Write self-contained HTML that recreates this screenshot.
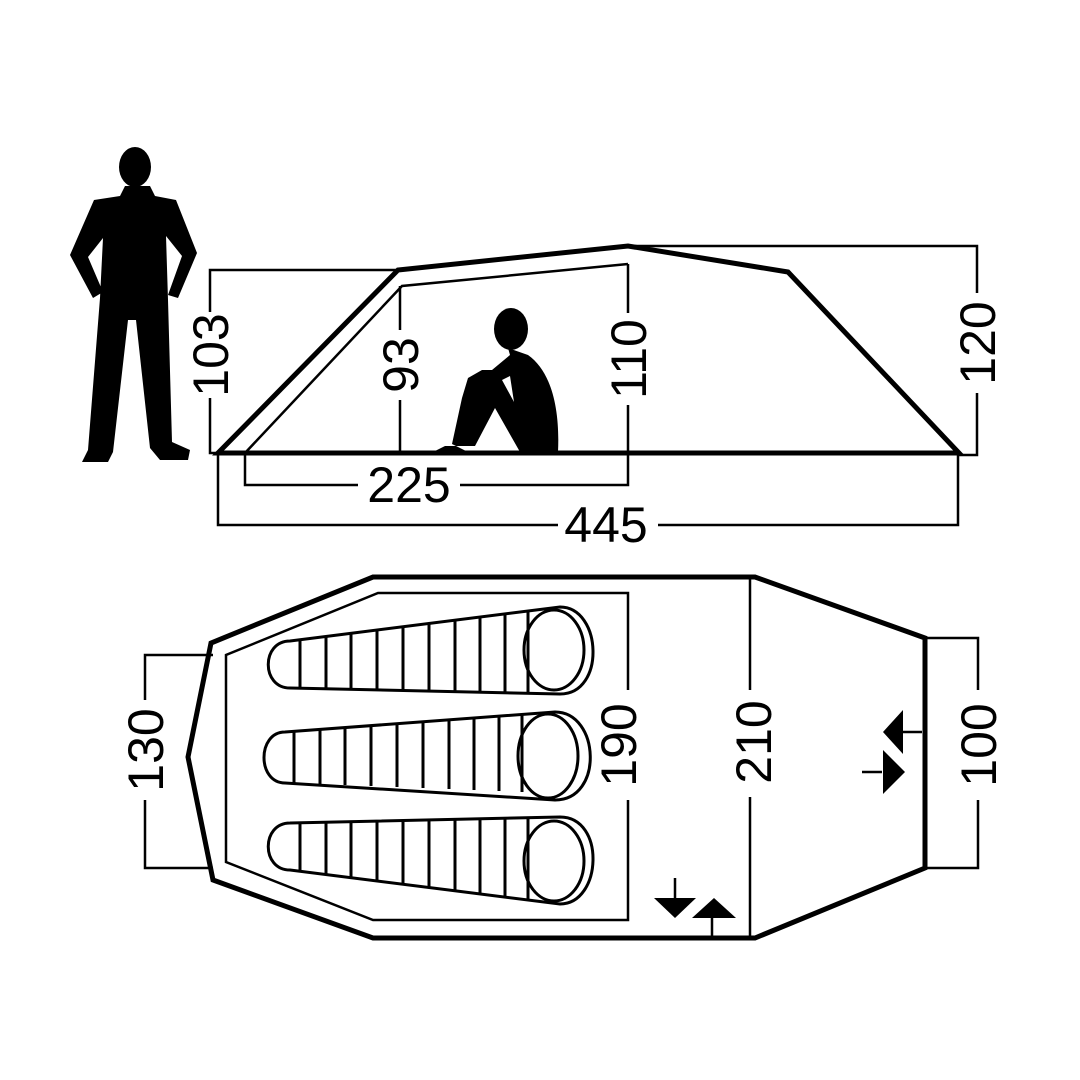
<!DOCTYPE html>
<html><head><meta charset="utf-8"><style>html,body{margin:0;padding:0;background:#fff}svg{display:block}</style></head>
<body>
<svg width="1080" height="1080" viewBox="0 0 1080 1080" xmlns="http://www.w3.org/2000/svg">
<defs>
<g id="bag" fill="none" stroke="#000" stroke-width="3">
<path d="M290,641 L560,607 C602,607 606,694 560,694 L290,688 C261,688 261,641 290,641 Z"/>
<ellipse cx="554" cy="650" rx="30" ry="40"/>
<path d="M300,640V688 M326,637V689 M351,634V689 M377,630V690 M403,627V690 M429,624V691 M455,620V691 M480,617V692 M505,614V692 M528,611V693"/>
</g>
</defs>
<g fill="#000">
<!-- standing person -->
<ellipse cx="135" cy="167" rx="16" ry="20"/>
<path d="M125,186 L150,186 L155,196 L176,200 L197,253 L178,298 L168,295 L182,256 L166,236 L168,300 L172,442 L190,450 L188,460 L160,460 L150,448 L136,320 L128,320 L113,452 L108,462 L82,462 L88,450 L100,298 L103,238 L88,257 L103,292 L93,298 L70,255 L94,200 L120,196 Z"/>
<!-- sitting person -->
<ellipse cx="511" cy="329" rx="17" ry="21"/>
<path d="M508,348 L528,355 C552,372 560,410 558,452 L520,452 L495,408 L475,446 L445,446 L433,452 L470,453 L452,444 L462,398 L468,378 L482,370 L492,370 L510,355 Z M502,380 L514,402 L510,376 Z" fill-rule="evenodd"/>
</g>
<g fill="none" stroke="#000" stroke-linejoin="miter">
<!-- side view -->
<path d="M218,453 L398,270 L628,246 L788,272 L959,453 Z" stroke-width="5"/>
<path d="M245,453 L402,286 L628,264" stroke-width="2.5"/>
<g stroke-width="2.5">
<path d="M398,270 H210 V312 M210,398 V453 H218"/>
<path d="M400,286 V330 M400,400 V453"/>
<path d="M628,264 V313 M628,405 V485 H460 M358,485 H245 V453"/>
<path d="M628,246 H977 V293 M977,393 V455 H959"/>
<path d="M218,453 V525 H558 M658,525 H958 V453"/>
</g>
<!-- top view -->
<path d="M373,577 L755,577 L925,638 L925,868 L755,938 L373,938 L213,880 L188,757 L211,643 Z" stroke-width="5"/>
<path d="M628,690 V593 H378 L226,655 V862 L373,920 H628 V800" stroke-width="2.5"/>
<g stroke-width="2.5">
<path d="M750,577 V690 M750,797 V938"/>
<path d="M925,638 H978 V690 M978,800 V868 H925"/>
<path d="M213,655 H145 V700 M145,800 V868 H213"/>
<path d="M712,938 V915 M675,878 V898 M895,732 H922 M862,772 H882"/>
</g>
</g>
<g fill="#000">
<polygon points="654,898 696,898 675,918"/>
<polygon points="692,918 736,918 714,898"/>
<polygon points="883,732 903,710 903,754"/>
<polygon points="905,772 883,750 883,794"/>
</g>
<use href="#bag"/>
<g fill="none" stroke="#000" stroke-width="3">
<path d="M285,732 L555,712 C600,712 604,800 555,800 L285,783 C257,783 257,732 285,732 Z"/>
<ellipse cx="548" cy="756" rx="30" ry="42"/>
<path d="M294,731V783 M320,729V784 M345,727V785 M371,725V786 M397,723V787 M423,721V788 M449,719V789 M474,717V790 M499,715V791 M522,714V792"/>
</g>
<use href="#bag" transform="translate(0,1511) scale(1,-1)"/>
<g font-family="Liberation Sans, sans-serif" font-size="50" fill="#000" text-anchor="middle">
<text x="409" y="502">225</text>
<text x="606" y="542">445</text>
<text transform="translate(228,355) rotate(-90)">103</text>
<text transform="translate(418,365) rotate(-90)">93</text>
<text transform="translate(646,359) rotate(-90)">110</text>
<text transform="translate(995,343) rotate(-90)">120</text>
<text transform="translate(163,750) rotate(-90)">130</text>
<text transform="translate(636,745) rotate(-90)">190</text>
<text transform="translate(771,742) rotate(-90)">210</text>
<text transform="translate(996,745) rotate(-90)">100</text>
</g>
</svg>
</body></html>
